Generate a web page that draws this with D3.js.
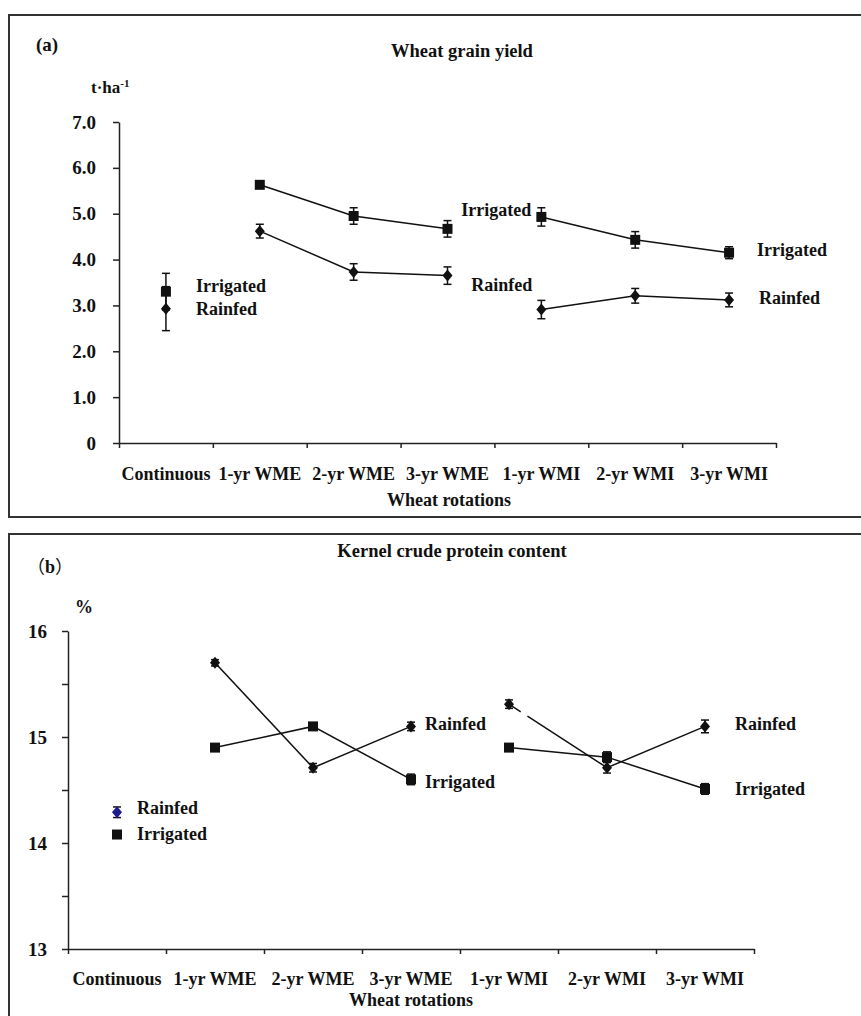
<!DOCTYPE html>
<html>
<head>
<meta charset="utf-8">
<script src="https://d3js.org/d3.v7.min.js"></script>
<style>
  html, body { margin: 0; padding: 0; background: #fff; }
  svg { display: block; }
  text { font-family: "Liberation Serif", "Times New Roman", serif; font-weight: bold; fill: #111; }
  .axis path, .axis line { stroke: #222; stroke-width: 1.5; }
</style>
</head>
<body>
<div id="chart"></div>
<script>
// rotations on the x axis
var categories = ["Continuous", "1-yr WME", "2-yr WME", "3-yr WME", "1-yr WMI", "2-yr WMI", "3-yr WMI"];
// lines are drawn inside each rotation group only
var segments = [["1-yr WME", "2-yr WME", "3-yr WME"], ["1-yr WMI", "2-yr WMI", "3-yr WMI"]];

// (a) wheat grain yield, t/ha
var yieldIrrigated    = [3.30, 5.63, 4.95, 4.67, 4.93, 4.43, 4.15];
var yieldIrrigatedErr = [0.40, 0.06, 0.18, 0.18, 0.20, 0.18, 0.13];
var yieldRainfed      = [2.93, 4.62, 3.73, 3.65, 2.91, 3.21, 3.12];
var yieldRainfedErr   = [0.48, 0.15, 0.18, 0.19, 0.20, 0.16, 0.15];
var yieldTicks = [0, 1, 2, 3, 4, 5, 6, 7];

// (b) kernel crude protein, %
var proteinRainfed      = [null, 15.70, 14.71, 15.10, 15.31, 14.71, 15.10];
var proteinRainfedErr   = [null, 0.03, 0.04, 0.04, 0.04, 0.05, 0.06];
var proteinIrrigated    = [null, 14.90, 15.10, 14.60, 14.90, 14.81, 14.51];
var proteinIrrigatedErr = [null, 0, 0, 0.05, 0, 0.05, 0.05];
var proteinTicks = [13, 13.5, 14, 14.5, 15, 15.5, 16];

var svg = d3.select("#chart").append("svg").attr("width", 861).attr("height", 1016);

// panel frames
svg.append("rect").attr("x", 9).attr("y", 15).attr("width", 870).attr("height", 502)
  .attr("fill", "none").attr("stroke", "#333").attr("stroke-width", 2);
svg.append("rect").attr("x", 9).attr("y", 534).attr("width", 870).attr("height", 520)
  .attr("fill", "none").attr("stroke", "#333").attr("stroke-width", 2);

function diamond(g, x, y, fill) {
  g.append("path")
    .attr("d", "M" + x + "," + (y - 6) + "L" + (x + 5) + "," + y + "L" + x + "," + (y + 6) + "L" + (x - 5) + "," + y + "Z")
    .attr("fill", fill || "#111");
}
function square(g, x, y) {
  g.append("rect").attr("x", x - 5).attr("y", y - 5).attr("width", 10).attr("height", 10).attr("fill", "#111");
}
function errBar(g, x, y, v, e) {
  if (!e) return;
  var top = y(v + e), bot = y(v - e);
  g.append("line").attr("x1", x).attr("x2", x).attr("y1", top).attr("y2", bot).attr("stroke", "#111").attr("stroke-width", 1.5);
  [top, bot].forEach(function(yy) {
    g.append("line").attr("x1", x - 4).attr("x2", x + 4).attr("y1", yy).attr("y2", yy).attr("stroke", "#111").attr("stroke-width", 1.5);
  });
}

function panel(opt) {
  var g = svg.append("g");
  var x = d3.scaleBand().domain(categories).range(opt.xr).padding(0);
  var xEdge = d3.scaleLinear().domain([0, categories.length]).range(opt.xr);
  var y = d3.scaleLinear().domain(opt.yd).range(opt.yr);

  // y axis
  g.append("g").attr("class", "axis").attr("transform", "translate(" + opt.xr[0] + ",0)")
    .call(d3.axisLeft(y).tickValues(opt.yTicks).tickSize(6).tickSizeOuter(0).tickFormat(opt.yFormat))
    .call(function(a) {
      a.selectAll("text").attr("font-size", opt.yFont).attr("dx", opt.yLabelDx).style("font-family", "Liberation Serif").style("font-weight", "bold").attr("fill", "#111");
    });

  // x axis: ticks at band edges
  g.append("g").attr("class", "axis").attr("transform", "translate(0," + opt.yr[0] + ")")
    .call(d3.axisBottom(xEdge).tickValues(d3.range(categories.length + 1)).tickSize(5).tickSizeOuter(0).tickFormat(""));
  g.append("g").attr("transform", "translate(0," + opt.yr[0] + ")")
    .call(d3.axisBottom(x).tickSize(0).tickPadding(opt.xLabelPad))
    .call(function(a) {
      a.select(".domain").remove();
      a.selectAll("text").attr("font-size", 18).style("font-family", "Liberation Serif").style("font-weight", "bold").attr("fill", "#111");
    });

  // lines
  var line = d3.line().x(function(d) { return x(d.c) + x.bandwidth() / 2; }).y(function(d) { return y(d.v); });
  opt.series.forEach(function(s) {
    segments.forEach(function(seg, si) {
      var pts = seg.map(function(c) { return { c: c, v: s.values[categories.indexOf(c)] }; });
      var p = g.append("path").attr("d", line(pts)).attr("fill", "none").attr("stroke", "#111").attr("stroke-width", 1.5);
      if (s.dash && s.dash[si]) p.attr("stroke-dasharray", s.dash[si]);
    });
  });

  // points + error bars
  opt.series.forEach(function(s) {
    categories.forEach(function(c, i) {
      var v = s.values[i];
      if (v == null || (i === 0 && !opt.plotFirst)) return;
      var cx = x(c) + x.bandwidth() / 2;
      errBar(g, cx, y, v, s.err[i]);
      if (s.marker === "square") square(g, cx, y(v)); else diamond(g, cx, y(v));
    });
  });

  // text labels anchored to data coordinates
  opt.labels.forEach(function(l) {
    g.append("text").attr("x", x(l.c) + x.bandwidth() / 2 + l.dx).attr("y", y(l.v))
      .attr("dy", "0.35em").attr("text-anchor", l.anchor || "start").attr("font-size", 18).text(l.t);
  });

  return { g: g, x: x, y: y };
}

// (a)
var pa = panel({
  xr: [119, 776], yr: [443, 122], yd: [0, 7], yTicks: yieldTicks,
  yFormat: function(d) { return d === 0 ? "0" : d3.format(".1f")(d); },
  yFont: 19, yLabelDx: -14, xLabelPad: 24, plotFirst: true,
  series: [
    { values: yieldIrrigated, err: yieldIrrigatedErr, marker: "square" },
    { values: yieldRainfed, err: yieldRainfedErr, marker: "diamond" }
  ],
  labels: [
    { t: "Irrigated", c: "Continuous", v: 3.42, dx: 30 },
    { t: "Rainfed", c: "Continuous", v: 2.92, dx: 30 },
    { t: "Irrigated", c: "1-yr WMI", v: 5.08, dx: -10, anchor: "end" },
    { t: "Rainfed", c: "1-yr WMI", v: 3.45, dx: -9, anchor: "end" },
    { t: "Irrigated", c: "3-yr WMI", v: 4.21, dx: 28 },
    { t: "Rainfed", c: "3-yr WMI", v: 3.16, dx: 30 }
  ]
});
svg.append("text").attr("x", 36).attr("y", 51).attr("font-size", 19).text("(a)");
svg.append("text").attr("x", 462).attr("y", 57).attr("text-anchor", "middle").attr("font-size", 18.5).text("Wheat grain yield");
var unit = svg.append("text").attr("x", 91).attr("y", 93).attr("font-size", 17);
unit.append("tspan").text("t·ha");
unit.append("tspan").attr("font-size", 11).attr("dy", -6).text("-1");
svg.append("text").attr("x", 449).attr("y", 506).attr("text-anchor", "middle").attr("font-size", 18).text("Wheat rotations");

// (b)
var pb = panel({
  xr: [68, 754], yr: [949, 631], yd: [13, 16], yTicks: proteinTicks,
  yFormat: function(d) { return d % 1 === 0 ? d : ""; },
  yFont: 19, yLabelDx: -12, xLabelPad: 23, plotFirst: false,
  series: [
    { values: proteinRainfed, err: proteinRainfedErr, marker: "diamond", dash: [null, "14,8,400"] },
    { values: proteinIrrigated, err: proteinIrrigatedErr, marker: "square" }
  ],
  labels: [
    { t: "Rainfed", c: "3-yr WME", v: 15.13, dx: 14 },
    { t: "Irrigated", c: "3-yr WME", v: 14.58, dx: 14 },
    { t: "Rainfed", c: "3-yr WMI", v: 15.13, dx: 30 },
    { t: "Irrigated", c: "3-yr WMI", v: 14.51, dx: 30 },
    { t: "Rainfed", c: "Continuous", v: 14.33, dx: 20 },
    { t: "Irrigated", c: "Continuous", v: 14.09, dx: 20 }
  ]
});
// legend markers for (b)
var lx = pb.x("Continuous") + pb.x.bandwidth() / 2;
errBar(pb.g, lx, pb.y, 14.29, 0.05);
diamond(pb.g, lx, pb.y(14.29), "#1c1c8c");
square(pb.g, lx, pb.y(14.08));

var lb = svg.append("text").attr("x", 27).attr("y", 573).attr("font-size", 18);
lb.append("tspan").style("font-family", "'Noto Sans CJK SC', serif").style("font-weight", "normal").text("（");
lb.append("tspan").text("b");
lb.append("tspan").style("font-family", "'Noto Sans CJK SC', serif").style("font-weight", "normal").text("）");
svg.append("text").attr("x", 452).attr("y", 557).attr("text-anchor", "middle").attr("font-size", 18.5).text("Kernel crude protein content");
svg.append("text").attr("x", 75).attr("y", 613).attr("font-size", 18).text("%");
svg.append("text").attr("x", 411).attr("y", 1006).attr("text-anchor", "middle").attr("font-size", 18).text("Wheat rotations");
</script>
</body>
</html>
